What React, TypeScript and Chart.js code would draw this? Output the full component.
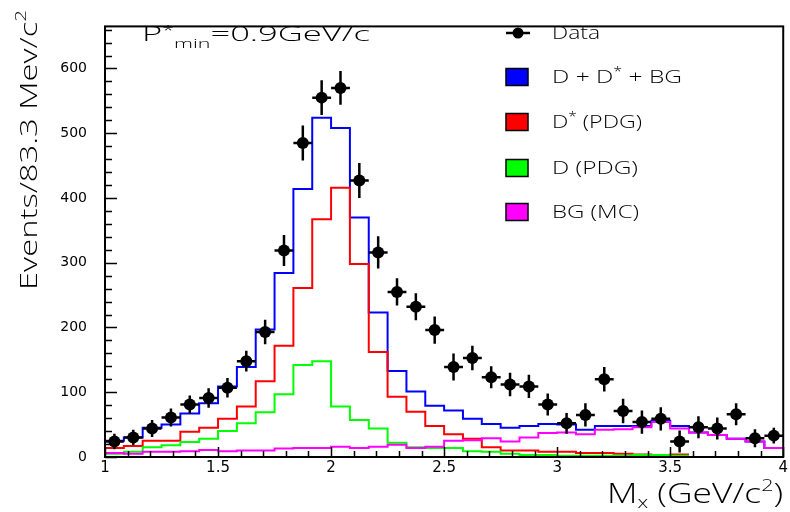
import React, { useEffect, useRef } from "react";
import { Chart, registerables } from "chart.js";

Chart.register(...registerables);

// ---- Binning (36 bins of 83.3 MeV from 1 to 4 GeV/c^2)
const X_MIN = 1;
const X_MAX = 4;
const N_BINS = 36;
const BIN_WIDTH = (X_MAX - X_MIN) / N_BINS;

const X_TICKS = [1, 1.5, 2, 2.5, 3, 3.5, 4];
const Y_TICKS = [0, 100, 200, 300, 400, 500, 600];
const Y_MAX = 665;

// ---- Data points (per bin) and their errors
const dataValues = [24, 30, 44, 61, 81, 91, 107, 148, 193, 319, 485, 555, 570, 427, 316, 255, 232, 196,
  139, 153, 123, 112, 109, 81, 52, 65, 120, 71, 54, 59, 24, 46, 44, 66, 29, 33];
const dataErrors = [12, 12, 13, 14, 14, 15, 15, 16, 19, 24, 27, 27, 26, 27, 25, 21, 21, 21,
  21, 19, 17, 18, 18, 17, 16, 18, 19, 19, 18, 18, 17, 17, 17, 17, 14, 12];

// ---- Histograms
const totalFit = [25, 30, 45, 50, 67, 83, 109, 139, 197, 284, 414, 524, 508, 370, 223, 133, 101, 79,
  72, 59, 51, 45, 48, 51, 50, 42, 48, 48, 48, 56, 48, 38, 34, 28, 24, 14];
const dStarPDG: (number | null)[] = [14, 17, 25, 25, 39, 45, 59, 78, 117, 172, 261, 367, 416, 298, 162, 93, 70, 48,
  35, 28, 15, 10, 10, 8, 8, 6, 6, 5, 4, 3, 4, null, null, null, null, null];
const dPDG: (number | null)[] = [5, 8, 15, 18, 23, 28, 40, 52, 69, 97, 142, 148, 78, 57, 44, 22, 15, 14,
  14, 9, 8, 5, 3, 3, 2, 2, 2, 2, 3, 3, 2, null, null, null, null, null];
const bgMC = [6, 5, 8, 8, 9, 11, 9, 10, 10, 13, 14, 14, 16, 14, 16, 19, 14, 16,
  25, 26, 29, 24, 30, 37, 38, 35, 42, 43, 46, 54, 44, 38, 34, 28, 24, 14];

const FONT = "'Open Sans', 'Liberation Sans', sans-serif";
const WEIGHT = 300;

function histPoints(vals: (number | null)[]) {
  const pts: { x: number; y: number | null }[] = [];
  vals.forEach((v, i) => {
    const lo = X_MIN + i * BIN_WIDTH;
    const hi = lo + BIN_WIDTH;
    if (v === null) pts.push({ x: lo + BIN_WIDTH / 2, y: null });
    else {
      pts.push({ x: lo, y: v });
      pts.push({ x: hi, y: v });
    }
  });
  return pts;
}

type Seg = { t: string; size: number; dy?: number };

function richWidth(ctx: CanvasRenderingContext2D, segs: Seg[]) {
  let w = 0;
  for (const s of segs) {
    ctx.font = `${WEIGHT} ${s.size}px ${FONT}`;
    w += ctx.measureText(s.t).width;
  }
  return w;
}

function drawRich(ctx: CanvasRenderingContext2D, segs: Seg[], x: number, y: number, sx: number) {
  ctx.save();
  ctx.translate(x, y);
  ctx.scale(sx, 1);
  ctx.textAlign = "left";
  ctx.textBaseline = "alphabetic";
  ctx.fillStyle = "#000";
  let cx = 0;
  for (const s of segs) {
    ctx.font = `${WEIGHT} ${s.size}px ${FONT}`;
    ctx.fillText(s.t, cx, s.dy || 0);
    cx += ctx.measureText(s.t).width;
  }
  ctx.restore();
}

const rootPlugin = {
  id: "rootStyle",
  afterDatasetsDraw(chart: any) {
    const ctx: CanvasRenderingContext2D = chart.ctx;
    const xs = chart.scales.x;
    const ys = chart.scales.y;
    ctx.save();
    ctx.strokeStyle = "#000";
    ctx.lineWidth = 2.5;
    dataValues.forEach((v, i) => {
      const c = X_MIN + (i + 0.5) * BIN_WIDTH;
      const px = xs.getPixelForValue(c);
      const py = ys.getPixelForValue(v);
      const x0 = xs.getPixelForValue(c - BIN_WIDTH / 2);
      const x1 = xs.getPixelForValue(c + BIN_WIDTH / 2);
      const y0 = ys.getPixelForValue(v - dataErrors[i]);
      const y1 = ys.getPixelForValue(v + dataErrors[i]);
      ctx.beginPath();
      ctx.moveTo(x0, py);
      ctx.lineTo(x1, py);
      ctx.moveTo(px, y0);
      ctx.lineTo(px, y1);
      ctx.stroke();
    });
    ctx.restore();
  },
  afterDraw(chart: any) {
    const ctx: CanvasRenderingContext2D = chart.ctx;
    const { left, right, top, bottom } = chart.chartArea;
    const xs = chart.scales.x;
    const ys = chart.scales.y;
    ctx.save();
    // frame
    ctx.strokeStyle = "#000";
    ctx.lineWidth = 2;
    ctx.strokeRect(left, top, right - left, bottom - top);
    // inside ticks
    ctx.lineWidth = 1.5;
    ctx.beginPath();
    for (let k = 0; k <= 30; k++) {
      const v = X_MIN + k * 0.1;
      const px = Math.round(xs.getPixelForValue(v)) + 0.5;
      const len = k % 5 === 0 ? 10 : 6;
      ctx.moveTo(px, bottom);
      ctx.lineTo(px, bottom - len);
    }
    for (let k = 0; k * 20 <= Y_MAX; k++) {
      const v = k * 20;
      const py = Math.round(ys.getPixelForValue(v)) + 0.5;
      const len = k % 5 === 0 ? 12 : 7;
      ctx.moveTo(left, py);
      ctx.lineTo(left + len, py);
    }
    ctx.stroke();
    ctx.restore();

    // y-axis title (rotated, aligned to top)
    const yTitle: Seg[] = [{ t: "Events/83.3 Mev/c", size: 24 }, { t: "2", size: 15, dy: -11 }];
    const yw = richWidth(ctx, yTitle);
    ctx.save();
    ctx.translate(37, 10);
    ctx.rotate(-Math.PI / 2);
    drawRich(ctx, yTitle, -280, 0, 280 / yw);
    ctx.restore();

    // x-axis title (aligned right)
    const xTitle: Seg[] = [
      { t: "M", size: 28 },
      { t: "x", size: 17, dy: 5 },
      { t: " (GeV/c", size: 28 },
      { t: "2", size: 17, dy: -12 },
      { t: ")", size: 28 },
    ];
    const xw = richWidth(ctx, xTitle);
    drawRich(ctx, xTitle, 607, 503, 176 / xw);

    // top-left label
    const lab: Seg[] = [
      { t: "P", size: 21 },
      { t: "*", size: 13, dy: -6 },
      { t: "min", size: 13, dy: 7 },
      { t: "=0.9GeV/c", size: 21 },
    ];
    const lw = richWidth(ctx, lab);
    drawRich(ctx, lab, 142, 41, 228 / lw);

    // legend
    ctx.save();
    ctx.strokeStyle = "#000";
    ctx.fillStyle = "#000";
    ctx.lineWidth = 2.5;
    ctx.beginPath();
    ctx.moveTo(506, 33);
    ctx.lineTo(530, 33);
    ctx.stroke();
    ctx.beginPath();
    ctx.arc(518, 33, 5.5, 0, Math.PI * 2);
    ctx.fill();
    ctx.restore();
    const dataSeg: Seg[] = [{ t: "Data", size: 18 }];
    drawRich(ctx, dataSeg, 552, 39, 48 / richWidth(ctx, dataSeg));

    const entries: { color: string; cy: number; w: number; segs: Seg[] }[] = [
      { color: "#0000ff", cy: 77, w: 130, segs: [{ t: "D + D", size: 18 }, { t: "*", size: 12, dy: -7 }, { t: " + BG", size: 18 }] },
      { color: "#ff0000", cy: 122, w: 90, segs: [{ t: "D", size: 18 }, { t: "*", size: 12, dy: -7 }, { t: " (PDG)", size: 18 }] },
      { color: "#00ff00", cy: 168, w: 86, segs: [{ t: "D (PDG)", size: 18 }] },
      { color: "#ff00ff", cy: 212, w: 87, segs: [{ t: "BG (MC)", size: 18 }] },
    ];
    for (const e of entries) {
      ctx.save();
      ctx.fillStyle = e.color;
      ctx.fillRect(506, e.cy - 8.5, 22, 17);
      ctx.strokeStyle = "#000";
      ctx.lineWidth = 1.5;
      ctx.strokeRect(506, e.cy - 8.5, 22, 17);
      ctx.restore();
      drawRich(ctx, e.segs, 552, e.cy + 6, e.w / richWidth(ctx, e.segs));
    }
  },
};

export default function App() {
  const ref = useRef<HTMLCanvasElement | null>(null);

  useEffect(() => {
    document.body.style.margin = "0";
    const canvas = ref.current;
    if (!canvas) return;
    const histDs = (label: string, vals: (number | null)[], color: string, order: number) => ({
      type: "scatter" as const,
      label,
      data: histPoints(vals),
      showLine: true,
      borderColor: color,
      backgroundColor: color,
      borderWidth: 2,
      pointRadius: 0,
      tension: 0,
      spanGaps: false,
      fill: false,
      order,
    });
    const chart = new Chart(canvas, {
      type: "scatter",
      data: {
        datasets: [
          {
            label: "Data",
            data: dataValues.map((v, i) => ({ x: X_MIN + (i + 0.5) * BIN_WIDTH, y: v })),
            pointStyle: "circle",
            pointRadius: 6,
            backgroundColor: "#000",
            borderColor: "#000",
            borderWidth: 0,
            showLine: false,
            order: 0,
          },
          histDs("BG (MC)", bgMC, "#ff00ff", 1),
          histDs("D (PDG)", dPDG, "#00ff00", 2),
          histDs("D* (PDG)", dStarPDG, "#ff0000", 3),
          histDs("D + D* + BG", totalFit, "#0000ff", 4),
        ] as any,
      },
      options: {
        animation: false,
        responsive: false,
        devicePixelRatio: 1,
        layout: { padding: { top: 10, right: 5, left: 0, bottom: 0 } },
        plugins: { legend: { display: false }, tooltip: { enabled: false } },
        scales: {
          x: {
            type: "linear",
            min: X_MIN,
            max: X_MAX,
            grid: { display: false, drawTicks: false },
            border: { display: false },
            ticks: {
              font: { family: "'DejaVu Sans', sans-serif", size: 15 },
              color: "#000",
              padding: 2,
              maxRotation: 0,
              autoSkip: false,
              callback: (v: any) => String(v),
            },
            afterBuildTicks: (s: any) => {
              s.ticks = X_TICKS.map((value) => ({ value }));
            },
            afterFit: (s: any) => {
              s.height = 55;
            },
          },
          y: {
            type: "linear",
            min: 0,
            max: Y_MAX,
            grid: { display: false, drawTicks: false },
            border: { display: false },
            ticks: {
              font: { family: "'DejaVu Sans', sans-serif", size: 14 },
              color: "#000",
              padding: 18,
              callback: (v: any) => String(v),
            },
            afterBuildTicks: (s: any) => {
              s.ticks = Y_TICKS.map((value) => ({ value }));
            },
            afterFit: (s: any) => {
              s.width = 105;
            },
          },
        },
      } as any,
      plugins: [rootPlugin],
    });
    return () => chart.destroy();
  }, []);

  return (
    <div style={{ position: "absolute", left: 0, top: 0, width: 790, height: 512, background: "#fff" }}>
      <canvas ref={ref} width={790} height={512} style={{ display: "block" }} />
    </div>
  );
}
